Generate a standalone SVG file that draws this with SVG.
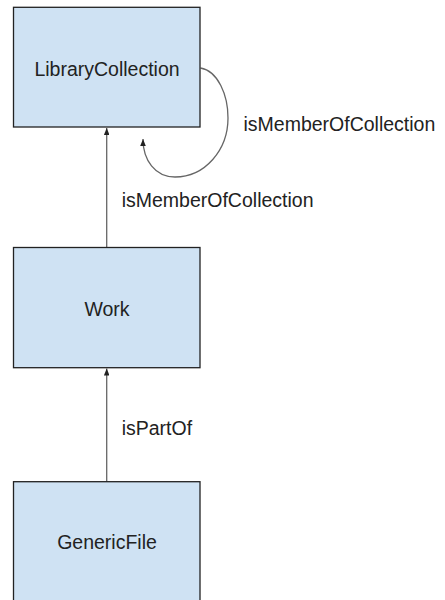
<svg xmlns="http://www.w3.org/2000/svg" width="445" height="600" viewBox="0 0 445 600">
<style>
.box{fill:#cfe2f3;stroke:#222;stroke-width:1.3}
.lbl{font-family:"Liberation Sans",Arial,sans-serif;font-size:19.5px;fill:#222}
.mid{text-anchor:middle}
.con{fill:none;stroke:#666;stroke-width:1.3}
</style>
<defs>
<marker id="ah" viewBox="0 0 10 8" refX="10" refY="4" markerWidth="7" markerHeight="5.6" markerUnits="userSpaceOnUse" orient="auto">
<path d="M0,0 L10,4 L0,8 Z" fill="#222"/>
</marker>
</defs>
<rect width="445" height="600" fill="#fff"/>
<g id="connectors">
<line class="con" x1="106.7" y1="247.3" x2="106.7" y2="128" marker-end="url(#ah)"/>
<line class="con" x1="106.7" y1="481.7" x2="106.7" y2="368.5" marker-end="url(#ah)"/>
<path class="con" stroke="#333" d="M200.5,68 C218,71 228,95 228,118 C228,150 205,177 175,177 C155,177 143,160 143,139" marker-end="url(#ah)"/>
<text class="lbl" x="243.5" y="130.5">isMemberOfCollection</text>
<text class="lbl" x="121.7" y="207.3">isMemberOfCollection</text>
<text class="lbl" x="121.7" y="435">isPartOf</text>
</g>
<g id="LibraryCollection">
<rect class="box" x="13.5" y="7.3" width="186.5" height="119.7"/>
<text class="lbl mid" x="107" y="75.5">LibraryCollection</text>
</g>
<g id="Work">
<rect class="box" x="13.5" y="247.5" width="186.5" height="120.2"/>
<text class="lbl mid" x="107" y="315.5">Work</text>
</g>
<g id="GenericFile">
<rect class="box" x="13.5" y="481.7" width="186.5" height="125"/>
<text class="lbl mid" x="107" y="549.3">GenericFile</text>
</g>
</svg>
